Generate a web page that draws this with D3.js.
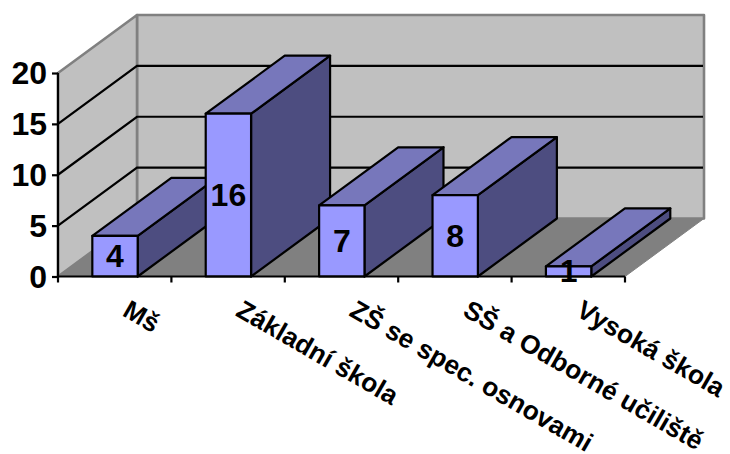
<!DOCTYPE html>
<html>
<head>
<meta charset="utf-8">
<script src="https://d3js.org/d3.v7.min.js"></script>
<style>
	html, body { margin: 0; padding: 0; background: #fff; }
	svg { display: block; }
	text { font-family: "Liberation Sans", Arial, sans-serif; font-weight: bold; fill: #000; }
</style>
</head>
<body>
<script>
	var width = 730;
	var height = 454;

	// data
	var categories = ["Mš", "Základní škola", "ZŠ se spec. osnovami", "SŠ a Odborné učiliště", "Vysoká škola"];
	var values = [4, 16, 7, 8, 1];
	var yTicks = [0, 5, 10, 15, 20];

	// 3d box: everything is shifted by this to reach the back of the floor
	var depthX = 79;
	var depthY = -58;

	var svg = d3.select("body")
		.append("svg")
		.attr("width", width)
		.attr("height", height);

	// scales
	var xScale = d3.scaleBand()
		.domain(categories)
		.range([58, 625]);
	var yScale = d3.scaleLinear()
		.domain([0, 20])
		.range([276.5, 73]);

	var barWidth = xScale.bandwidth() * 0.4;
	var barLeft = function(c) { return xScale(c) + (xScale.bandwidth() - barWidth) / 2 + 0.3; };

	var x0 = xScale.range()[0];
	var x1 = xScale.range()[1];
	var y0 = yScale(0);
	var yTop = yScale(20);

	function poly(points, fill, stroke, strokeWidth) {
		svg.append("path")
			.attr("d", d3.line()(points) + "Z")
			.attr("fill", fill)
			.attr("stroke", stroke)
			.attr("stroke-width", strokeWidth)
			.attr("stroke-linejoin", "round");
	}

	// walls and floor
	poly([[x0 + depthX, y0 + depthY], [x1 + depthX, y0 + depthY], [x1 + depthX, yTop + depthY], [x0 + depthX, yTop + depthY]], "#c0c0c0", "#808080", 2.6);
	poly([[x0, y0], [x0, yTop], [x0 + depthX, yTop + depthY], [x0 + depthX, y0 + depthY]], "#c0c0c0", "#808080", 2.6);
	poly([[x0, y0], [x1, y0], [x1 + depthX, y0 + depthY], [x0 + depthX, y0 + depthY]], "#808080", "#808080", 1);

	// gridlines
	yTicks.filter(function(t) { return t > 0 && t < 20; }).forEach(function(t) {
		svg.append("path")
			.attr("d", d3.line()([[x0, yScale(t)], [x0 + depthX, yScale(t) + depthY], [x1 + depthX - 1, yScale(t) + depthY]]))
			.attr("fill", "none")
			.attr("stroke", "#000")
			.attr("stroke-width", 2.2);
	});

	// bars, left to right so the next bar covers the side of the previous
	categories.forEach(function(c, i) {
		var l = barLeft(c);
		var r = l + barWidth;
		var t = yScale(values[i]);
		poly([[r, y0], [r, t], [r + depthX, t + depthY], [r + depthX, y0 + depthY]], "#4d4d80", "#000", 2.2);
		poly([[l, t], [r, t], [r + depthX, t + depthY], [l + depthX, t + depthY]], "#7777bb", "#000", 2.2);
		poly([[l, y0], [r, y0], [r, t], [l, t]], "#9999ff", "#000", 2.2);
	});

	// axes
	var xAxis = svg.append("g")
		.attr("transform", "translate(0," + y0 + ")")
		.call(d3.axisBottom(xScale).tickSize(6).tickFormat(""));
	xAxis.selectAll(".tick").remove();
	xAxis.selectAll(".domain").attr("stroke", "#000").attr("stroke-width", 2.2).attr("d", "M" + x0 + ",0H" + x1);
	var edges = d3.range(categories.length + 1).map(function(i) { return x0 + i * xScale.step(); });
	xAxis.selectAll("line.edge")
		.data(edges)
		.enter()
		.append("line")
		.attr("class", "edge")
		.attr("x1", function(d) { return d; })
		.attr("x2", function(d) { return d; })
		.attr("y1", 0)
		.attr("y2", 6)
		.attr("stroke", "#000")
		.attr("stroke-width", 2.2);

	var yAxis = svg.append("g")
		.attr("transform", "translate(" + x0 + ",0)")
		.call(d3.axisLeft(yScale).tickValues(yTicks).tickSize(6).tickPadding(5));
	yAxis.selectAll(".domain").attr("stroke", "#000").attr("stroke-width", 2.2).attr("d", "M0," + yTop + "V" + y0);
	yAxis.selectAll(".tick line").attr("stroke", "#000").attr("stroke-width", 2.2);
	yAxis.selectAll(".tick text")
		.style("font-size", "32px")
		.style("font-family", "'Liberation Sans', Arial, sans-serif")
		.style("font-weight", "bold")
		.attr("dy", "0.34em");

	// value labels on the bar fronts
	svg.selectAll("text.value")
		.data(values)
		.enter()
		.append("text")
		.attr("class", "value")
		.attr("x", function(d, i) { return barLeft(categories[i]) + barWidth / 2; })
		.attr("y", function(d) { return (yScale(d) + y0) / 2; })
		.attr("dy", "0.34em")
		.attr("text-anchor", "middle")
		.style("font-size", "32px")
		.text(function(d) { return d; });

	// rotated category labels
	svg.selectAll("text.cat")
		.data(categories)
		.enter()
		.append("text")
		.attr("class", "cat")
		.attr("transform", function(c) {
			return "translate(" + (xScale(c) + xScale.bandwidth() / 2 + 6.5) + ",315) rotate(30)";
		})
		.style("font-size", "26.3px")
		.text(function(c) { return c; });
</script>
</body>
</html>
